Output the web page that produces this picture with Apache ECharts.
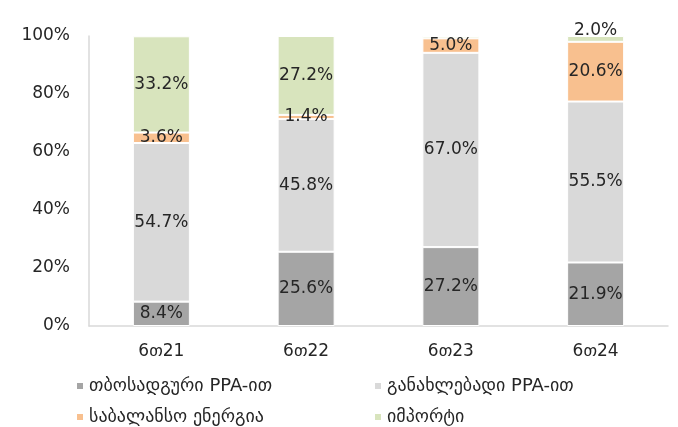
<!DOCTYPE html>
<html>
<head>
<meta charset="utf-8">
<script src="https://cdn.jsdelivr.net/npm/echarts@6/dist/echarts.min.js"></script>
<style>
  html, body { margin: 0; padding: 0; background: #fff; }
  #chart { width: 678px; height: 427px; }
</style>
</head>
<body>
<div id="chart"></div>
<script>
const categories = ['6თ21', '6თ22', '6თ23', '6თ24']
const seriesNames = ['თბოსადგური PPA-ით', 'განახლებადი PPA-ით', 'საბალანსო ენერგია', 'იმპორტი']
const thermal = [8.4, 25.6, 27.2, 21.9]
const renewable = [54.7, 45.8, 67.0, 55.5]
const balancing = [3.6, 1.4, 5.0, 20.6]
const imports = [33.2, 27.2, 0.8, 2.0]
const colors = ['#a5a5a5', '#d9d9d9', '#f8c08f', '#d8e4bd']

const font = '"DejaVu Sans", sans-serif'
const ink = '#262626'

const chart = echarts.init(document.getElementById('chart'))

const makeSeries = (name, values, color, tweak) => ({
  name,
  type: 'bar',
  stack: 'total',
  barWidth: 57,
  itemStyle: { color, borderColor: '#fff', borderWidth: 1 },
  label: {
    show: true,
    position: 'inside',
    color: ink,
    fontSize: 17,
    fontFamily: font,
    formatter: p => p.value.toFixed(1) + '%'
  },
  data: values.map((v, i) => (tweak ? tweak(v, i) : v))
})

// one legend per entry, laid out as the 2x2 grid of the original
const legendPos = [[70, 372], [70, 403], [368, 372], [368, 403]]
const legendOrder = [0, 2, 1, 3]
const legends = legendOrder.map((s, k) => ({
  left: legendPos[k][0],
  top: legendPos[k][1],
  itemWidth: 8,
  itemHeight: 8,
  icon: 'rect',
  data: [seriesNames[s]],
  textStyle: { color: ink, fontSize: 18, fontFamily: font }
}))

const option = {
  animation: false,
  grid: { left: 89, right: 10, top: 36, bottom: 101 },
  xAxis: {
    type: 'category',
    data: categories,
    axisLine: { lineStyle: { color: '#d9d9d9', width: 1.5 } },
    axisTick: { show: false },
    axisLabel: { color: ink, fontSize: 17, fontFamily: font, margin: 17 }
  },
  yAxis: {
    type: 'value',
    min: 0,
    max: 100,
    interval: 20,
    axisLine: { show: true, lineStyle: { color: '#d9d9d9', width: 1.5 } },
    splitLine: { show: false },
    axisLabel: { color: ink, fontSize: 17, fontFamily: font, margin: 19, formatter: '{value}%' }
  },
  legend: legends,
  series: [
    makeSeries(seriesNames[0], thermal, colors[0]),
    makeSeries(seriesNames[1], renewable, colors[1]),
    makeSeries(seriesNames[2], balancing, colors[2]),
    makeSeries(seriesNames[3], imports, colors[3], (v, i) => {
      if (i === 2) return { value: v, label: { show: false } }
      if (i === 3) return { value: v, label: { position: 'top', distance: -3 } }
      return v
    })
  ]
}

chart.setOption(option)
</script>
</body>
</html>
